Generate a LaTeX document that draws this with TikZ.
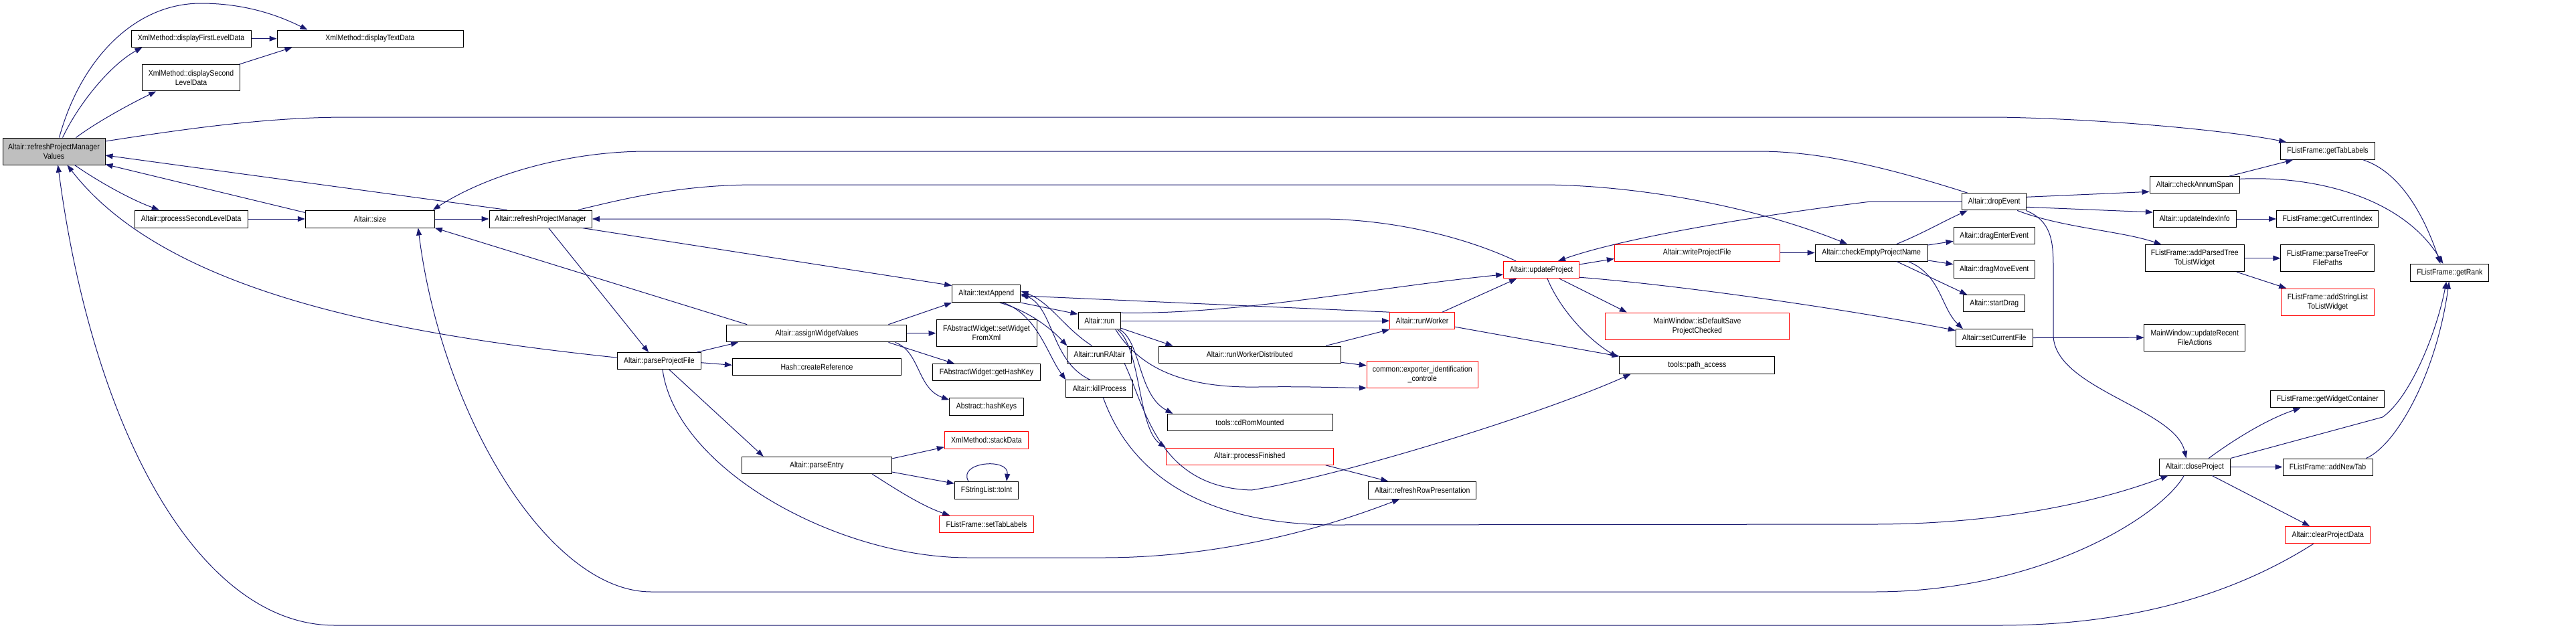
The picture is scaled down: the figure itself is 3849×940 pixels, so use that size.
\documentclass[tikz,border=0pt]{standalone}
\usepackage{fontspec}
\setmainfont{Liberation Sans}[FakeStretch=0.875]
\usetikzlibrary{arrows.meta,calc}
\definecolor{edgec}{HTML}{191970}
\definecolor{redc}{HTML}{FF0000}
\definecolor{rootc}{HTML}{BFBFBF}
\begin{document}
\begin{tikzpicture}[x=1pt,y=-1pt,
  nb/.style={draw=black, line width=1pt, fill=white, inner sep=0pt, align=center, font=\fontsize{12}{14}\selectfont},
  nr/.style={nb, draw=redc},
  wh/.style 2 args={minimum width=#1pt, minimum height=#2pt},
  ed/.style={draw=edgec, line width=1pt, -{Triangle[length=11pt,width=8pt]}}]
\fill[white] (0,0) rectangle (3849,940);
\useasboundingbox (0,0) rectangle (3849,940);
% ---------------- nodes ----------------
\node[nb, fill=rootc, wh={153}{40}] (rpmv) at (80.5,226) {Altair::refreshProjectManager\\Values};
\node[nb, wh={179}{25.3}] (dfl) at (285.5,57.7) {XmlMethod::displayFirstLevelData};
\node[nb, wh={278}{25.3}] (dtd) at (553,57.7) {XmlMethod::displayTextData};
\node[nb, wh={145.6}{39.3}] (dsl) at (285.5,116.3) {XmlMethod::displaySecond\\LevelData};
\node[nb, wh={168.7}{26}] (psld) at (285.7,327) {Altair::processSecondLevelData};
\node[nb, wh={193}{26}] (size) at (552.8,327) {Altair::size};
\node[nb, wh={153.3}{26}] (rpm) at (807.7,327) {Altair::refreshProjectManager};
\node[nb, wh={124.7}{25}] (ppf) at (985,539.2) {Altair::parseProjectFile};
\node[nb, wh={269.3}{25.7}] (awv) at (1220.3,498) {Altair::assignWidgetValues};
\node[nb, wh={252.3}{25.3}] (hcr) at (1220.5,548.3) {Hash::createReference};
\node[nb, wh={224}{25.3}] (pe) at (1220.3,695) {Altair::parseEntry};
\node[nb, wh={102.3}{25.7}] (ta) at (1473.8,438.8) {Altair::textAppend};
\node[nb, wh={150}{40}] (swfx) at (1474,497.7) {FAbstractWidget::setWidget\\FromXml};
\node[nb, wh={160.7}{25.3}] (ghk) at (1474,556.3) {FAbstractWidget::getHashKey};
\node[nb, wh={110.7}{25.7}] (hk) at (1474,607.2) {Abstract::hashKeys};
\node[nr, wh={125.3}{25.6}] (sd) at (1474,657.5) {XmlMethod::stackData};
\node[nb, wh={95.3}{25.7}] (ti) at (1474,732.2) {FStringList::toInt};
\node[nr, wh={140.7}{25.4}] (stl) at (1474,783) {FListFrame::setTabLabels};
\node[nb, wh={63.3}{25}] (run) at (1642.7,479.2) {Altair::run};
\node[nb, wh={95.7}{25.3}] (runr) at (1642.8,529.7) {Altair::runRAltair};
\node[nb, wh={99.7}{25.6}] (kp) at (1642.8,580.5) {Altair::killProcess};
\node[nb, wh={272.3}{25.3}] (rwd) at (1867.2,529.7) {Altair::runWorkerDistributed};
\node[nb, wh={247}{25.4}] (cdrom) at (1867.5,631) {tools::cdRomMounted};
\node[nr, wh={250}{25.3}] (pf) at (1867.3,681.7) {Altair::processFinished};
\node[nr, wh={96.7}{25}] (rw) at (2125,479.2) {Altair::runWorker};
\node[nr, wh={166}{40}] (exp) at (2125.3,559) {common::exporter\_identification\\\_controle};
\node[nb, wh={161}{25.7}] (rrp) at (2125.2,732.2) {Altair::refreshRowPresentation};
\node[nr, wh={112.7}{25.4}] (up) at (2303,403) {Altair::updateProject};
\node[nr, wh={246.7}{25}] (wpf) at (2535.7,377.5) {Altair::writeProjectFile};
\node[nr, wh={275.3}{40}] (idsp) at (2536,487) {MainWindow::isDefaultSave\\ProjectChecked};
\node[nb, wh={231.7}{25.6}] (pa) at (2535.8,545.5) {tools::path\_access};
\node[nb, wh={168.3}{25}] (cepn) at (2796.2,377.5) {Altair::checkEmptyProjectName};
\node[nb, wh={96}{25.3}] (de) at (2979.7,301.3) {Altair::dropEvent};
\node[nb, wh={121.3}{25.3}] (dee) at (2979.7,352.3) {Altair::dragEnterEvent};
\node[nb, wh={121.3}{25.7}] (dme) at (2979.7,402.8) {Altair::dragMoveEvent};
\node[nb, wh={92}{25.3}] (sdg) at (2979.7,453.3) {Altair::startDrag};
\node[nb, wh={114.7}{25.6}] (scf) at (2979.7,504.5) {Altair::setCurrentFile};
\node[nb, wh={150.7}{39.7}] (mwurfa) at (3279.3,504.2) {MainWindow::updateRecent\\FileActions};
\node[nb, wh={134.3}{25.3}] (cas) at (3279.2,276.3) {Altair::checkAnnumSpan};
\node[nb, wh={123.7}{25.7}] (uii) at (3279.2,327) {Altair::updateIndexInfo};
\node[nb, wh={148.3}{40}] (aptlw) at (3279.2,385.7) {FListFrame::addParsedTree\\ToListWidget};
\node[nb, wh={106.3}{25}] (cp) at (3279.2,697.5) {Altair::closeProject};
\node[nb, wh={140.7}{25.6}] (gtl) at (3478,225.5) {FListFrame::getTabLabels};
\node[nb, wh={152.3}{25.7}] (gci) at (3477.8,327) {FListFrame::getCurrentIndex};
\node[nb, wh={139.7}{40}] (ptfp) at (3477.8,385.7) {FListFrame::parseTreeFor\\FilePaths};
\node[nr, wh={138.7}{40}] (asl) at (3478,451) {FListFrame::addStringList\\ToListWidget};
\node[nb, wh={169.7}{25.3}] (gwc) at (3477.8,596.3) {FListFrame::getWidgetContainer};
\node[nb, wh={134}{25}] (ant) at (3478,697.5) {FListFrame::addNewTab};
\node[nr, wh={127}{25.4}] (cpd) at (3478.2,799) {Altair::clearProjectData};
\node[nb, wh={117.3}{25.7}] (gr) at (3660.3,407.2) {FListFrame::getRank};
% ---------------- edges ----------------
% from refreshProjectManagerValues
\draw[ed] ($(rpmv.north)+(8,0)$) .. controls (120,90) and (200,5) .. (300,5) .. controls (370,5) and (420,25) .. ($(dtd.north west)+(46,0)$);
\draw[ed] ($(rpmv.north)+(13,0)$) .. controls (120,150) and (168,95) .. ($(dfl.south west)+(17,0)$);
\draw[ed] ($(rpmv.north)+(33,0)$) .. controls (145,182) and (195,155) .. ($(dsl.south west)+(21,0)$);
\draw[ed] ($(rpmv.south)+(31,0)$) .. controls (145,270) and (195,298) .. ($(psld.north west)+(37,0)$);
\draw[ed] ($(rpmv.east)+(0,-15)$) .. controls (280,192) and (400,175) .. (520,175) -- (2987,175) .. controls (3150,178) and (3330,195) .. ($(gtl.north west)+(9,0)$);
% into refreshProjectManagerValues
\draw[ed] ($(rpm.north west)+(27,0)$) -- ($(rpmv.east)+(0,6)$);
\draw[ed] ($(size.north west)+(0,4)$) -- ($(rpmv.south east)+(0,-1)$);
\draw[ed] ($(ppf.west)+(0,-5)$) .. controls (600,500) and (250,440) .. ($(rpmv.south)+(20,0)$);
\draw[ed] ($(cpd.south)+(-21.5,0)$) .. controls (3350,880) and (3200,934) .. (2987,934) -- (500,934) .. controls (300,934) and (140,650) .. ($(rpmv.south)+(6,0)$);
% XmlMethod
\draw[ed] (dfl.east) -- (dtd.west);
\draw[ed] ($(dsl.north east)+(-1.6,0)$) -- ($(dtd.south west)+(23,0)$);
% size / refreshProjectManager
\draw[ed] (psld.east) -- (size.west);
\draw[ed] (size.east) -- (rpm.west);
\draw[ed] ($(rpm.south)+(12,0)$) -- ($(ppf.north west)+(47,0)$);
\draw[ed] ($(rpm.south)+(62,0)$) -- ($(ta.north west)+(0,1)$);
\draw[ed] ($(rpm.north east)+(-21,0)$) .. controls (940,295) and (1020,276) .. (1130,276) -- (2303,276) .. controls (2420,276) and (2600,300) .. ($(cepn.north)+(-36,0)$);
\draw[ed] ($(up.north)+(-38,0)$) .. controls (2180,350) and (2070,327) .. (1970,327) -- (rpm.east);
\draw[ed] ($(de.north)+(-40,0)$) .. controls (2820,250) and (2720,226) .. (2627,226) -- (967,226) .. controls (850,226) and (730,260) .. ($(size.north east)+(-3,0)$);
% parseProjectFile
\draw[ed] ($(ppf.north east)+(-7,0)$) -- ($(awv.south west)+(18,0)$);
\draw[ed] ($(ppf.east)+(0,2.5)$) -- ($(hcr.west)+(0,-3)$);
\draw[ed] ($(ppf.south)+(15,0)$) -- ($(pe.north west)+(33,0)$);
\draw[ed] ($(ppf.south)+(5,0)$) .. controls (1010,700) and (1250,833) .. (1447,833) -- (1647,833) .. controls (1800,833) and (1950,800) .. ($(rrp.south west)+(47,0)$);
% assignWidgetValues
\draw[ed] ($(awv.north west)+(31,0)$) -- (size.south east);
\draw[ed] ($(awv.north east)+(-28,0)$) -- (ta.south west);
\draw[ed] (awv.east) -- (swfx.west);
\draw[ed] ($(awv.south east)+(-28,0)$) -- ($(ghk.north west)+(33,0)$);
\draw[ed] ($(awv.south east)+(-18,0)$) .. controls (1375,525) and (1370,580) .. ($(hk.west)+(0,-10)$);
% parseEntry
\draw[ed] ($(pe.east)+(0,-10)$) -- ($(sd.south west)+(0,-3)$);
\draw[ed] ($(pe.east)+(0,10)$) -- ($(ti.west)+(0,-10)$);
\draw[ed] ($(pe.south)+(83,0)$) .. controls (1330,725) and (1375,755) .. ($(stl.north west)+(16,0)$);
\draw[ed] ($(ti.north)+(-27,0)$) .. controls (1430,690) and (1508,683) .. ($(ti.north)+(30,0)$);
% textAppend cluster
\draw[ed] (ta.south east) -- ($(run.west)+(0,-10)$);
\draw[ed] ($(ta.south)+(20,0)$) .. controls (1530,462) and (1565,485) .. (runr.north west);
\draw[ed] ($(ta.south)+(25,0)$) .. controls (1550,470) and (1565,530) .. (kp.north west);
\draw[ed] ($(runr.north)+(-11,0)$) .. controls (1590,490) and (1570,452) .. ($(ta.east)+(0,-4)$);
\draw[ed] ($(kp.north)+(-14,0)$) .. controls (1570,540) and (1575,460) .. (ta.east);
\draw[ed] (rw.north west) -- ($(ta.east)+(0,3)$);
% run
\draw[ed] (run.east) -- (rw.west);
\draw[ed] ($(run.south east)+(0,-2)$) -- ($(rwd.north west)+(22,0)$);
\draw[ed] ($(run.south east)+(-2,0)$) .. controls (1705,510) and (1700,590) .. ($(cdrom.north west)+(9,0)$);
\draw[ed] ($(run.south east)+(-5,0)$) .. controls (1705,520) and (1700,640) .. (pf.north west);
\draw[ed] ($(run.south east)+(-8,0)$) .. controls (1700,545) and (1760,580) .. (1880,578) .. controls (1950,577) and (2000,579) .. (exp.south west);
\draw[ed] ($(run.north east)+(0,1)$) .. controls (1850,470) and (2050,430) .. ($(up.west)+(0,7)$);
% runWorker etc.
\draw[ed] ($(rwd.north east)+(-23,0)$) -- (rw.south west);
\draw[ed] ($(rwd.south east)+(0,-1.6)$) -- ($(exp.west)+(0,-13)$);
\draw[ed] ($(rw.north)+(30,0)$) -- ($(up.south west)+(20,0)$);
\draw[ed] ($(rw.east)+(0,9)$) -- (pa.north west);
\draw[ed] ($(runr.south east)+(-11,0)$) .. controls (1712,610) and (1730,728) .. (1870,732) .. controls (2000,712) and (2300,620) .. ($(pa.south west)+(17,0)$);
\draw[ed] ($(pf.south east)+(-12,0)$) -- ($(rrp.north west)+(30,0)$);
\draw[ed] ($(kp.south)+(5.5,0)$) .. controls (1690,710) and (1800,785) .. (2000,784) -- (2800,783) .. controls (2970,783) and (3120,755) .. ($(cp.south west)+(14,0)$);
% updateProject
\draw[ed] ($(up.east)+(0,-8)$) -- ($(wpf.west)+(0,9)$);
\draw[ed] ($(up.south)+(27,0)$) -- ($(idsp.north west)+(33,0)$);
\draw[ed] ($(up.south)+(9,0)$) .. controls (2330,460) and (2370,505) .. ($(pa.north west)+(-3,1)$);
\draw[ed] ($(up.south east)+(0,-2)$) .. controls (2500,425) and (2750,460) .. ($(scf.west)+(0,-11)$);
% checkEmptyProjectName
\draw[ed] (wpf.east) -- (cepn.west);
\draw[ed] ($(cepn.north east)+(-47,0)$) .. controls (2870,350) and (2905,330) .. ($(de.south)+(-40,0)$);
\draw[ed] ($(cepn.east)+(0,-11.5)$) -- ($(dee.west)+(0,8)$);
\draw[ed] ($(cepn.east)+(0,11.5)$) -- ($(dme.west)+(0,-8)$);
\draw[ed] ($(cepn.south east)+(-47,0)$) -- ($(sdg.north west)+(6,0)$);
\draw[ed] ($(cepn.south east)+(-30,0)$) .. controls (2900,410) and (2900,460) .. ($(scf.north west)+(11,0)$);
% dropEvent
\draw[ed] (de.west) -- (2793,301.3) .. controls (2680,315) and (2440,350) .. ($(up.north)+(25,0)$);
\draw[ed] ($(de.east)+(0,-7)$) -- ($(cas.west)+(0,10)$);
\draw[ed] ($(de.east)+(0,8)$) -- ($(uii.west)+(0,-10)$);
\draw[ed] ($(de.south east)+(-14,0)$) .. controls (3080,340) and (3170,345) .. ($(aptlw.north west)+(25,0)$);
\draw[ed] ($(de.south east)+(-1,0)$) .. controls (3065,330) and (3068,360) .. (3068,400) -- (3068,500) .. controls (3068,580) and (3250,610) .. ($(cp.north west)+(41,0)$);
\draw[ed] (scf.east) -- (mwurfa.west);
% right part
\draw[ed] ($(cas.north east)+(-16,0)$) -- ($(gtl.south west)+(19,0)$);
\draw[ed] ($(cas.east)+(0,-9)$) .. controls (3460,262) and (3590,295) .. ($(gr.north)+(-10,0)$);
\draw[ed] ($(gtl.south east)+(-18,0)$) .. controls (3590,258) and (3625,330) .. ($(gr.north)+(-14,0)$);
\draw[ed] (uii.east) -- (gci.west);
\draw[ed] (aptlw.east) -- (ptfp.west);
\draw[ed] ($(aptlw.south east)+(-12,0)$) -- ($(asl.north west)+(8,0)$);
% closeProject
\draw[ed] ($(cp.north)+(21,0)$) .. controls (3340,655) and (3390,625) .. ($(gwc.south west)+(45,0)$);
\draw[ed] (cp.north east) -- (3560,623) .. controls (3600,595) and (3640,500) .. ($(gr.south)+(-5,0)$);
\draw[ed] (cp.east) -- (ant.west);
\draw[ed] ($(cp.south)+(26,0)$) -- ($(cpd.north west)+(37,0)$);
\draw[ed] ($(ant.north east)+(-10,0)$) .. controls (3580,665) and (3640,560) .. ($(gr.south)+(-1,0)$);
\draw[ed] ($(cp.south)+(-16,0)$) .. controls (3230,770) and (3050,884) .. (2800,884) -- (973,884) .. controls (820,884) and (660,620) .. ($(size.south)+(72,0)$);
\end{tikzpicture}
\end{document}
